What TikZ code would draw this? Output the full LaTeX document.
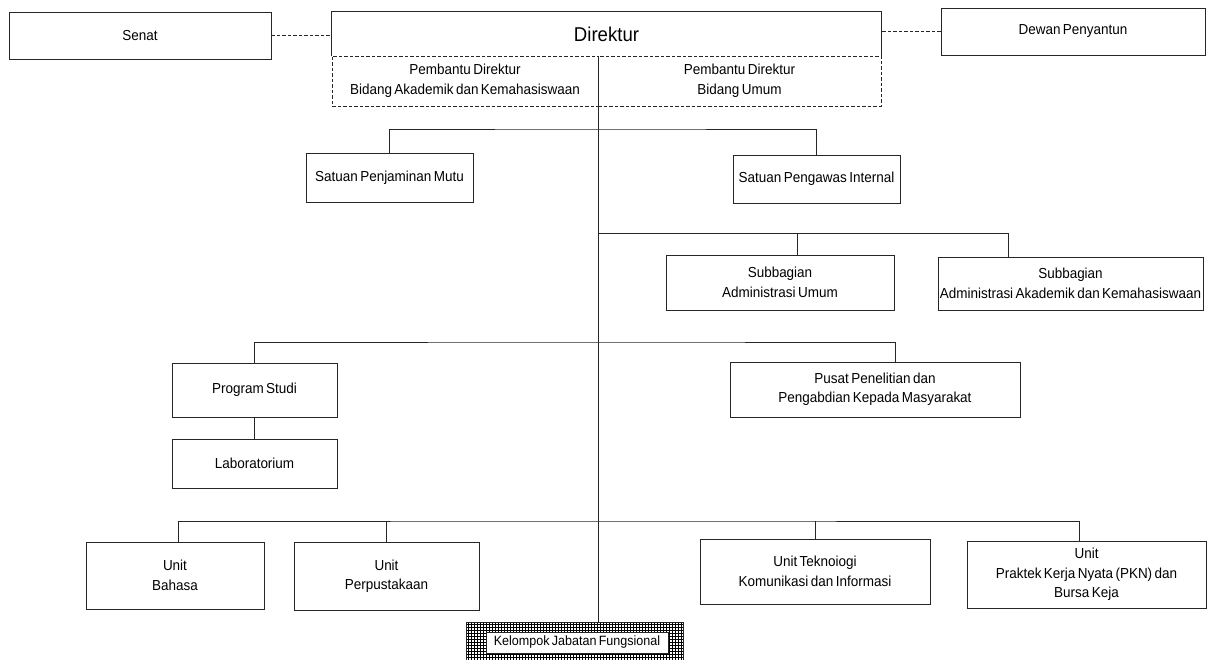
\documentclass[tikz,border=0pt]{standalone}
\usepackage{fontspec}
\setmainfont{Liberation Sans}[FakeStretch=0.93,WordSpace=0.65]
\begin{document}
\begin{tikzpicture}[x=1pt,y=-1pt,
  box/.style={draw=black!85, line width=0.8pt, inner sep=0pt, align=center, font=\fontsize{14.5}{19.5}\selectfont},
  dbox/.style={box, dash pattern=on 3.5pt off 2pt},
  ln/.style={line width=0.8pt, draw=black!85},
  dln/.style={ln, dash pattern=on 3.5pt off 2pt}]
\useasboundingbox[fill=white] (0,0) rectangle (1210,660);

% top row
\node[box,minimum width=262pt,minimum height=47pt] (senat) at (140,35.5) {Senat};
\node[box,draw=none,minimum width=549pt,minimum height=44pt,font=\fontsize{20}{22}\selectfont] (dir) at (606.5,34) {Direktur};
\draw[ln] (dir.south west) -- (dir.north west) -- (dir.north east) -- (dir.south east);
\node[box,minimum width=264pt,minimum height=47pt] (dewan) at (1073,31.5) {Dewan Penyantun};
\node[dbox,minimum width=266pt,minimum height=50pt] (pda) at (465,81) {Pembantu Direktur\\Bidang Akademik dan Kemahasiswaan};
\node[dbox,minimum width=283pt,minimum height=50pt] (pdu) at (739.5,81) {Pembantu Direktur\\Bidang Umum};

\draw[dln] (senat.east) -- (senat.east -| dir.west);
\draw[dln] (dewan.west) -- (dewan.west -| dir.east);

% second level
\node[box,minimum width=167pt,minimum height=49pt] (spm) at (389.5,177.5) {Satuan Penjaminan Mutu};
\node[box,minimum width=167pt,minimum height=48pt] (spi) at (816.5,179) {Satuan Pengawas Internal};
\node[box,minimum width=228pt,minimum height=55pt] (subau) at (780,282.5) {Subbagian\\Administrasi Umum};
\node[box,minimum width=265pt,minimum height=53pt] (subaa) at (1070.5,283.5) {Subbagian\\Administrasi Akademik dan Kemahasiswaan};
\node[box,minimum width=165pt,minimum height=54pt] (prodi) at (254.5,390) {Program Studi};
\node[box,minimum width=165pt,minimum height=49pt] (lab) at (254.5,463.5) {Laboratorium};
\node[box,minimum width=290pt,minimum height=55pt] (pusat) at (875,389.5) {Pusat Penelitian dan\\Pengabdian Kepada Masyarakat};
\node[box,minimum width=178pt,minimum height=67pt] (bahasa) at (175,575.5) {Unit\\Bahasa};
\node[box,minimum width=185pt,minimum height=68pt] (perpust) at (386.5,576) {Unit\\Perpustakaan};
\node[box,minimum width=230pt,minimum height=65pt] (tik) at (815,571.5) {Unit Teknoiogi\\Komunikasi dan Informasi};
\node[box,minimum width=239pt,minimum height=67pt] (pkn) at (1086.5,574.5) {Unit\\Praktek Kerja Nyata (PKN) dan\\Bursa Keja};

% Kelompok Jabatan Fungsional (hatched frame)
\node[inner sep=0pt,minimum width=216pt,minimum height=42pt] (kelO) at (575,644) {};
\begin{scope}
  \clip (kelO.north west) rectangle (kelO.south east);
  \draw[line width=0.7pt] (kelO.north west) grid[step=3pt] (kelO.south east);
\end{scope}
\draw[ln] (kelO.north west) rectangle (kelO.south east);
\node[box,fill=white,minimum width=182pt,minimum height=21pt,font=\fontsize{13.5}{15}\selectfont] (kel) at (577,642.5) {Kelompok Jabatan Fungsional};

% trunk and branches
\draw[ln] (pda.north east) -- (pda.north east |- kelO.north);
\coordinate (j1) at (598,129);
\coordinate (j2) at (598,233);
\coordinate (j3) at (598,342);
\coordinate (j4) at (598,521);
\draw[ln] (spm.north) |- (j1) -| (spi.north);
\draw[ln] (j2) -| ([xshift=-62.5pt]subaa.north);
\draw[ln] ([xshift=17pt]subau.north) -- ([xshift=17pt]subau.north |- j2);
\draw[ln] (prodi.north) |- (j3) -| ([xshift=20pt]pusat.north);
\draw[ln] (prodi) -- (lab);
\draw[ln] ([xshift=3pt]bahasa.north) |- (j4) -| ([xshift=-7.5pt]pkn.north);
\draw[ln] (perpust.north) -- (perpust.north |- j4);
\draw[ln] (tik.north) -- (tik.north |- j4);
\end{tikzpicture}
\end{document}
